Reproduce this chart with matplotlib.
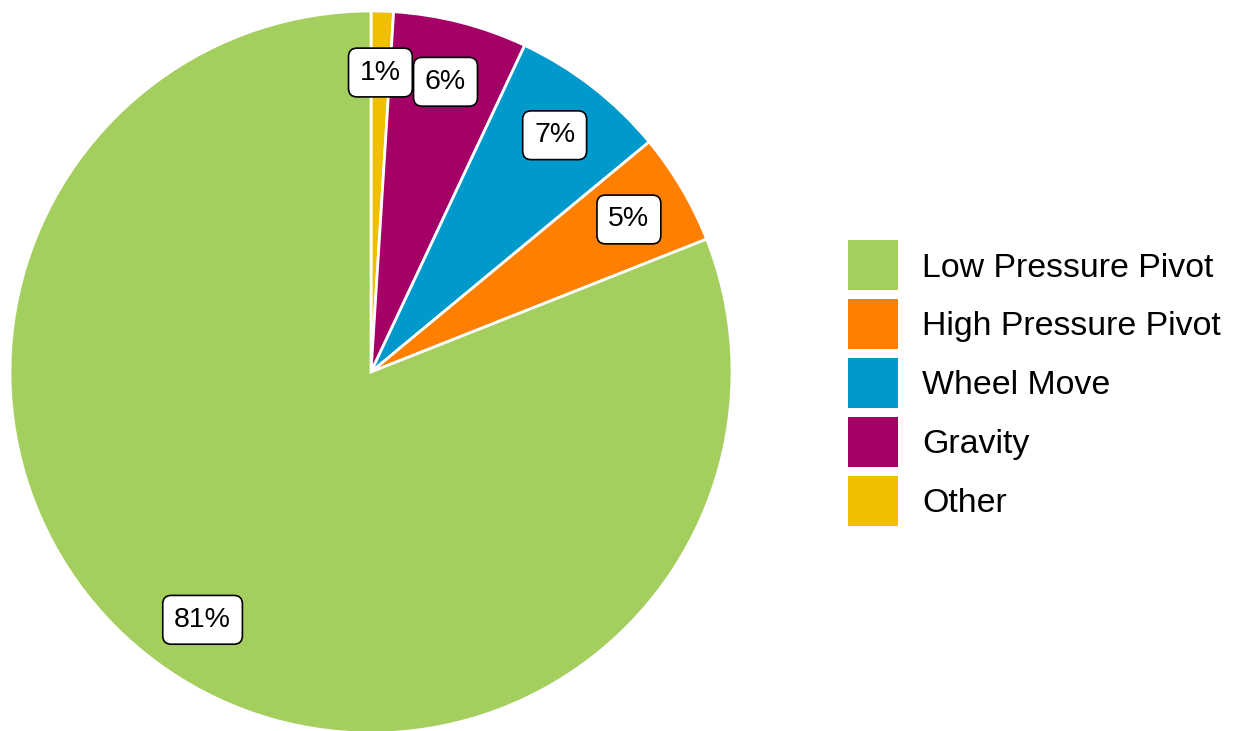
import matplotlib
matplotlib.use("Agg")
import matplotlib.pyplot as plt
from matplotlib.patches import Patch, Rectangle
from matplotlib.legend_handler import HandlerPatch

plt.rcParams['font.family'] = ['Liberation Sans', 'DejaVu Sans']

# slices in drawing order, clockwise from 12 o'clock
categories = ["Other", "Gravity", "Wheel Move", "High Pressure Pivot", "Low Pressure Pivot"]
shares = [1, 6, 7, 5, 81]
colors = ["#F0C000", "#A50066", "#0099CC", "#FF7F00", "#A4CE5E"]

legend_order = ["Low Pressure Pivot", "High Pressure Pivot", "Wheel Move", "Gravity", "Other"]

W, H = 1240, 731
fig = plt.figure(figsize=(W / 100, H / 100), dpi=100)
ax = fig.add_axes([0, 0, 1, 1])

wedges, texts, autotexts = ax.pie(
    shares, colors=colors, startangle=90, counterclock=False,
    center=(371, H - 372), radius=361,
    autopct=lambda p: f"{p:.0f}%", pctdistance=0.83,
    wedgeprops=dict(edgecolor="white", linewidth=2),
    textprops=dict(fontsize=20.5, color="black"),
)
for t in autotexts:
    t.set_bbox(dict(boxstyle="round,pad=0.4,rounding_size=0.3",
                    fc="white", ec="black", lw=1.2))

ax.set_xlim(0, W)
ax.set_ylim(0, H)
ax.set_aspect("equal")
ax.axis("off")


def square_key(legend, orig_handle, xdescent, ydescent, width, height, fontsize):
    # square key, centred on the row
    return Rectangle((-xdescent, -ydescent + height / 2 - width / 2), width, width)


handles = [Patch(facecolor=colors[categories.index(c)], edgecolor="none") for c in legend_order]
fig.legend(handles, legend_order, loc="upper left",
           bbox_to_anchor=(848 / W, 1 - 245 / H), frameon=False,
           fontsize=24.4, handlelength=1.47, handleheight=1.47,
           handletextpad=0.71, labelspacing=0.535, borderpad=0, borderaxespad=0,
           handler_map={Patch: HandlerPatch(patch_func=square_key)})

fig.savefig("out.png", dpi=100)
